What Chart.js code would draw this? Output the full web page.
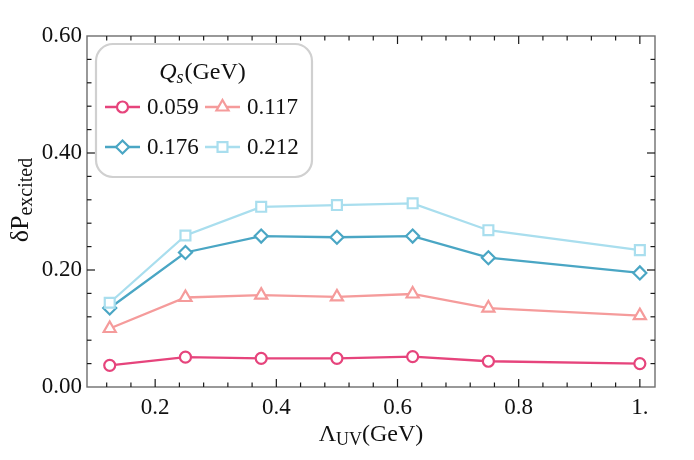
<!DOCTYPE html>
<html><head><meta charset="utf-8">
<script src="https://cdn.jsdelivr.net/npm/chart.js@4"></script>
<style>html,body{margin:0;padding:0;background:#fff}#wrap{width:694px;height:460px;position:relative}</style>
</head><body><div id="wrap"><canvas id="c" width="694" height="460"></canvas></div>
<script>
// ---- data ----
const lambdaUV = [0.125, 0.25, 0.375, 0.5, 0.625, 0.75, 1.0];
const qsLabels = ['0.059', '0.117', '0.176', '0.212'];
const p059 = [0.037, 0.051, 0.049, 0.049, 0.052, 0.044, 0.040];
const p117 = [0.100, 0.153, 0.157, 0.154, 0.159, 0.135, 0.122];
const p176 = [0.135, 0.230, 0.258, 0.256, 0.258, 0.221, 0.195];
const p212 = [0.144, 0.259, 0.308, 0.311, 0.314, 0.268, 0.234];
const xTickValues = [0.2, 0.4, 0.6, 0.8, 1.0];
const xTickLabels = ['0.2', '0.4', '0.6', '0.8', '1.'];
const yTickValues = [0, 0.2, 0.4, 0.6];
const yTickLabels = ['0.00', '0.20', '0.40', '0.60'];

// ---- styles ----
const colors = ['#E6447C', '#F59B9B', '#4AA6C4', '#A9DEEE'];
const styles = ['circle', 'triangle', 'rectRot', 'rect'];
const radii = [5.5, 7, 6.5, 7];
const seriesValues = [p059, p117, p176, p212];
const FONT = '"Liberation Serif", "DejaVu Serif", serif';

const datasets = seriesValues.map((vals, i) => ({
  label: qsLabels[i],
  data: lambdaUV.map((x, j) => ({x: x, y: vals[j]})),
  borderColor: colors[i],
  backgroundColor: '#ffffff',
  pointBackgroundColor: '#ffffff',
  pointBorderColor: colors[i],
  pointStyle: styles[i],
  pointRadius: radii[i],
  pointBorderWidth: 2.2,
  borderWidth: 2.3,
  tension: 0,
  order: 3 - i,
  clip: false
}));

function drawMarker(ctx, style, x, y, r, color) {
  ctx.save();
  ctx.beginPath();
  if (style === 'circle') {
    ctx.arc(x, y, r, 0, Math.PI * 2);
  } else if (style === 'triangle') {
    for (let k = 0; k < 3; k++) {
      const a = -Math.PI / 2 + k * 2 * Math.PI / 3;
      const px = x + Math.cos(a) * r, py = y + Math.sin(a) * r;
      if (k === 0) ctx.moveTo(px, py); else ctx.lineTo(px, py);
    }
    ctx.closePath();
  } else if (style === 'rectRot') {
    ctx.moveTo(x, y - r); ctx.lineTo(x + r, y); ctx.lineTo(x, y + r); ctx.lineTo(x - r, y); ctx.closePath();
  } else {
    const s = r * Math.SQRT1_2;
    ctx.rect(x - s, y - s, 2 * s, 2 * s);
  }
  ctx.fillStyle = '#fff';
  ctx.fill();
  ctx.lineWidth = 2.2;
  ctx.strokeStyle = color;
  ctx.stroke();
  ctx.restore();
}

const decor = {
  id: 'decor',
  afterDraw(chart) {
    const ctx = chart.ctx;
    const a = chart.chartArea;
    const xs = chart.scales.x, ys = chart.scales.y;
    ctx.save();
    // frame
    ctx.strokeStyle = '#6e6e6e';
    ctx.lineWidth = 1.4;
    ctx.strokeRect(a.left, a.top, a.right - a.left, a.bottom - a.top);
    // ticks
    ctx.strokeStyle = '#1a1a1a';
    ctx.lineWidth = 1.2;
    const tick = (x1, y1, x2, y2) => { ctx.beginPath(); ctx.moveTo(x1, y1); ctx.lineTo(x2, y2); ctx.stroke(); };
    for (let v = 0.12; v <= xs.max + 1e-9; v += 0.04) {
      const vv = Math.round(v * 100) / 100;
      const major = Math.abs(vv * 5 - Math.round(vv * 5)) < 1e-6;
      const len = major ? 8 : 4.5;
      const px = xs.getPixelForValue(vv);
      tick(px, a.bottom, px, a.bottom - len);
      tick(px, a.top, px, a.top + len);
    }
    for (let v = 0.04; v < ys.max - 1e-9; v += 0.04) {
      const vv = Math.round(v * 100) / 100;
      const major = Math.abs(vv * 5 - Math.round(vv * 5)) < 1e-6;
      const len = major ? 8 : 4.5;
      const py = ys.getPixelForValue(vv);
      tick(a.left, py, a.left + len, py);
      tick(a.right, py, a.right - len, py);
    }
    // x title
    ctx.fillStyle = '#111';
    ctx.textBaseline = 'alphabetic';
    const big = '24px ' + FONT, small = '18px ' + FONT;
    ctx.font = big; const wL = ctx.measureText('\u039B').width;
    ctx.font = small; const wUV = ctx.measureText('UV').width;
    ctx.font = big; const wG = ctx.measureText('(GeV)').width;
    let tx = (a.left + a.right) / 2 - (wL + wUV + wG) / 2;
    const ty = 441;
    ctx.font = big; ctx.textAlign = 'left'; ctx.fillText('\u039B', tx, ty); tx += wL;
    ctx.font = small; ctx.fillText('UV', tx, ty + 4); tx += wUV;
    ctx.font = big; ctx.fillText('(GeV)', tx, ty);
    // y title (rotated)
    ctx.save();
    ctx.translate(28, 200);
    ctx.rotate(-Math.PI / 2);
    const yBig = '26px ' + FONT, ySmall = '20px ' + FONT;
    ctx.font = yBig; const wdP = ctx.measureText('\u03B4P').width;
    ctx.font = ySmall; const wEx = ctx.measureText('excited').width;
    let ux = -(wdP + wEx) / 2;
    ctx.font = yBig; ctx.fillText('\u03B4P', ux, 0); ux += wdP;
    ctx.font = ySmall; ctx.fillText('excited', ux, 4);
    ctx.restore();
    // legend box
    const bx = 96, by = 44, bw = 216, bh = 133, br = 17;
    ctx.beginPath();
    ctx.moveTo(bx + br, by);
    ctx.arcTo(bx + bw, by, bx + bw, by + bh, br);
    ctx.arcTo(bx + bw, by + bh, bx, by + bh, br);
    ctx.arcTo(bx, by + bh, bx, by, br);
    ctx.arcTo(bx, by, bx + bw, by, br);
    ctx.closePath();
    ctx.fillStyle = '#ffffff';
    ctx.fill();
    ctx.strokeStyle = '#d0d0d0';
    ctx.lineWidth = 2.2;
    ctx.stroke();
    // legend title
    ctx.fillStyle = '#111';
    const tBig = '24px ' + FONT;
    ctx.font = 'italic 24px ' + FONT; const wQ = ctx.measureText('Q').width;
    ctx.font = 'italic 18px ' + FONT; const wS = ctx.measureText('s').width;
    ctx.font = tBig; const wGe = ctx.measureText('(GeV)').width;
    let lx = 202 - (wQ + wS + wGe) / 2;
    const ly = 79;
    ctx.font = 'italic 24px ' + FONT; ctx.fillText('Q', lx, ly); lx += wQ;
    ctx.font = 'italic 18px ' + FONT; ctx.fillText('s', lx, ly + 4); lx += wS + 1;
    ctx.font = tBig; ctx.fillText('(GeV)', lx, ly);
    // legend entries
    const cols = [105, 205];
    const rows = [107, 147];
    for (let i = 0; i < 4; i++) {
      const cx = cols[i % 2], cy = rows[Math.floor(i / 2)];
      ctx.strokeStyle = colors[i];
      ctx.lineWidth = 2.3;
      ctx.beginPath(); ctx.moveTo(cx, cy); ctx.lineTo(cx + 35, cy); ctx.stroke();
      drawMarker(ctx, styles[i], cx + 17.5, cy, radii[i], colors[i]);
      ctx.fillStyle = '#111';
      ctx.font = '23px ' + FONT;
      ctx.textBaseline = 'middle';
      ctx.fillText(qsLabels[i], cx + 42, cy + 1);
      ctx.textBaseline = 'alphabetic';
    }
    ctx.restore();
  }
};

new Chart(document.getElementById('c'), {
  type: 'line',
  data: { datasets: datasets },
  options: {
    responsive: false,
    devicePixelRatio: 1,
    animation: false,
    layout: { padding: { left: 0, top: 36, right: 39, bottom: 0 } },
    plugins: { legend: { display: false }, tooltip: { enabled: false } },
    scales: {
      x: {
        type: 'linear', min: 0.0875, max: 1.025,
        grid: { display: false, drawTicks: false },
        border: { display: false },
        afterFit(s) { s.height = 73; },
        afterBuildTicks(s) { s.ticks = xTickValues.map(v => ({ value: v })); },
        ticks: {
          padding: 7,
          color: '#111',
          font: { family: FONT, size: 23 },
          maxRotation: 0,
          autoSkip: false,
          callback: (v) => { const k = xTickValues.findIndex(t => Math.abs(t - v) < 1e-9); return k >= 0 ? xTickLabels[k] : ''; }
        }
      },
      y: {
        type: 'linear', min: 0, max: 0.6,
        grid: { display: false, drawTicks: false },
        border: { display: false },
        afterFit(s) { s.width = 87; },
        afterBuildTicks(s) { s.ticks = yTickValues.map(v => ({ value: v })); },
        ticks: {
          padding: 5,
          color: '#111',
          font: { family: FONT, size: 23 },
          autoSkip: false,
          callback: (v) => { const k = yTickValues.findIndex(t => Math.abs(t - v) < 1e-9); return k >= 0 ? yTickLabels[k] : ''; }
        }
      }
    }
  },
  plugins: [decor]
});
</script></body></html>
